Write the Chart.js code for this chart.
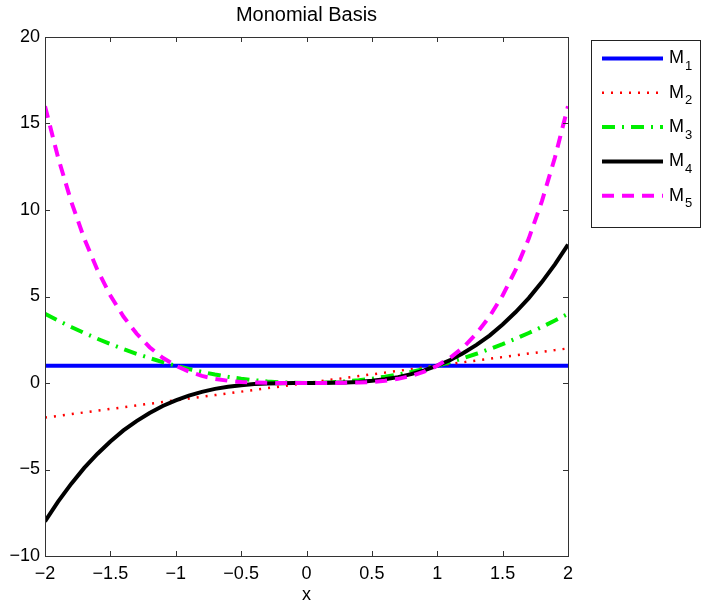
<!DOCTYPE html>
<html>
<head>
<meta charset="utf-8">
<script src="https://cdn.jsdelivr.net/npm/chart.js@4.4.1/dist/chart.umd.min.js"></script>
<style>
  html, body { margin: 0; padding: 0; background: #fff; }
  #wrap { width: 702px; height: 604px; }
</style>
</head>
<body>
<div id="wrap"><canvas id="basis-chart" width="702" height="604"></canvas></div>
<script>

// Chart data

const xs = [-2, -1.9, -1.8, -1.7, -1.6, -1.5, -1.4, -1.3, -1.2, -1.1, -1, -0.9, -0.8, -0.7,
  -0.6, -0.5, -0.4, -0.3, -0.2, -0.1, 0, 0.1, 0.2, 0.3, 0.4, 0.5, 0.6, 0.7, 0.8, 0.9, 1,
  1.1, 1.2, 1.3, 1.4, 1.5, 1.6, 1.7, 1.8, 1.9, 2];

const m1 = [1, 1, 1, 1, 1, 1, 1, 1, 1, 1, 1, 1, 1, 1, 1, 1, 1, 1, 1, 1, 1,
  1, 1, 1, 1, 1, 1, 1, 1, 1, 1, 1, 1, 1, 1, 1, 1, 1, 1, 1, 1];

const m2 = [-2, -1.9, -1.8, -1.7, -1.6, -1.5, -1.4, -1.3, -1.2, -1.1, -1, -0.9, -0.8, -0.7,
  -0.6, -0.5, -0.4, -0.3, -0.2, -0.1, 0, 0.1, 0.2, 0.3, 0.4, 0.5, 0.6, 0.7, 0.8, 0.9, 1,
  1.1, 1.2, 1.3, 1.4, 1.5, 1.6, 1.7, 1.8, 1.9, 2];

const m3 = [4, 3.61, 3.24, 2.89, 2.56, 2.25, 1.96, 1.69, 1.44, 1.21, 1, 0.81, 0.64, 0.49,
  0.36, 0.25, 0.16, 0.09, 0.04, 0.01, 0, 0.01, 0.04, 0.09, 0.16, 0.25, 0.36, 0.49, 0.64,
  0.81, 1, 1.21, 1.44, 1.69, 1.96, 2.25, 2.56, 2.89, 3.24, 3.61, 4];

const m4 = [-8, -6.86, -5.83, -4.91, -4.1, -3.38, -2.74, -2.2, -1.73, -1.33, -1, -0.73,
  -0.51, -0.34, -0.22, -0.13, -0.06, -0.03, -0.01, 0, 0, 0, 0.01, 0.03, 0.06, 0.13, 0.22,
  0.34, 0.51, 0.73, 1, 1.33, 1.73, 2.2, 2.74, 3.38, 4.1, 4.91, 5.83, 6.86, 8];

const m5 = [16, 13.03, 10.5, 8.35, 6.55, 5.06, 3.84, 2.86, 2.07, 1.46, 1, 0.66, 0.41, 0.24,
  0.13, 0.06, 0.03, 0.01, 0, 0, 0, 0, 0, 0.01, 0.03, 0.06, 0.13, 0.24, 0.41, 0.66, 1,
  1.46, 2.07, 2.86, 3.84, 5.06, 6.55, 8.35, 10.5, 13.03, 16];

const seriesNames = ['M1', 'M2', 'M3', 'M4', 'M5'];
const xTicks = [-2, -1.5, -1, -0.5, 0, 0.5, 1, 1.5, 2];
const yTicks = [-10, -5, 0, 5, 10, 15, 20];

const FONT = '"Liberation Sans", Arial, sans-serif';

const pts = ys => xs.map((x, i) => ({ x: x, y: ys[i] }));
const minus = v => String(v).replace('-', '\u2212');

// box + inward ticks, MATLAB style
const boxPlugin = {
  id: 'box',
  afterDraw(chart) {
    const c = chart.ctx;
    const a = chart.chartArea;
    const sx = chart.scales.x, sy = chart.scales.y;
    const len = 5;
    c.save();
    c.strokeStyle = '#333';
    c.lineWidth = 1;
    c.beginPath();
    xTicks.forEach(v => {
      const px = Math.round(sx.getPixelForValue(v)) + 0.5;
      c.moveTo(px, a.bottom); c.lineTo(px, a.bottom - len);
      c.moveTo(px, a.top); c.lineTo(px, a.top + len);
    });
    yTicks.forEach(v => {
      const py = Math.round(sy.getPixelForValue(v)) + 0.5;
      c.moveTo(a.left, py); c.lineTo(a.left + len, py);
      c.moveTo(a.right, py); c.lineTo(a.right - len, py);
    });
    c.stroke();
    c.strokeRect(Math.round(a.left) + 0.5, Math.round(a.top) + 0.5,
      Math.round(a.right - a.left), Math.round(a.bottom - a.top));
    c.restore();
  }
};

// legend with subscripts
const legendPlugin = {
  id: 'subLegend',
  afterDraw(chart) {
    const c = chart.ctx;
    const bx = 591, by = 40, bw = 110, bh = 188;
    c.save();
    c.fillStyle = '#fff';
    c.fillRect(bx, by, bw, bh);
    c.strokeStyle = '#222';
    c.lineWidth = 1;
    c.strokeRect(bx + 0.5, by + 0.5, bw - 1, bh - 1);
    chart.data.datasets.forEach((ds, i) => {
      const y = 58.5 + 34.3 * i;
      c.strokeStyle = ds.borderColor;
      c.lineWidth = ds.borderWidth;
      c.setLineDash(ds.borderDash || []);
      c.beginPath();
      c.moveTo(602, y);
      c.lineTo(663, y);
      c.stroke();
      c.setLineDash([]);
      c.fillStyle = '#000';
      c.textBaseline = 'middle';
      c.textAlign = 'left';
      c.font = '18px ' + FONT;
      c.fillText(ds.label.charAt(0), 669, y);
      const w = c.measureText(ds.label.charAt(0)).width;
      c.font = '13px ' + FONT;
      c.fillText(ds.label.slice(1), 669 + w + 1, y + 8);
    });
    c.restore();
  }
};

const styles = [
  { color: '#0000ff', width: 4, dash: [] },
  { color: '#ff0000', width: 2.5, dash: [2, 7] },
  { color: '#00ee00', width: 4, dash: [13, 7, 2, 7] },
  { color: '#000000', width: 4, dash: [] },
  { color: '#ff00ff', width: 4, dash: [12, 8] }
];

const series = [m1, m2, m3, m4, m5];

const ctx = document.getElementById('basis-chart').getContext('2d');

const basisChart = new Chart(ctx, {
  type: 'line',
  data: {
    datasets: series.map((ys, i) => ({
      label: seriesNames[i],
      data: pts(ys),
      borderColor: styles[i].color,
      backgroundColor: styles[i].color,
      borderWidth: styles[i].width,
      borderDash: styles[i].dash,
      pointRadius: 0,
      tension: 0,
      fill: false,
      order: 5 - i
    }))
  },
  options: {
    responsive: false,
    animation: false,
    events: [],
    layout: { padding: { left: 0, right: 134, top: 0, bottom: 0 } },
    scales: {
      x: {
        type: 'linear',
        min: -2,
        max: 2,
        afterFit: s => { s.height = 48; },
        afterBuildTicks: s => { s.ticks = xTicks.map(v => ({ value: v })); },
        grid: { display: false, drawTicks: false },
        border: { display: false },
        ticks: {
          padding: 7,
          color: '#000',
          font: { family: FONT, size: 18 },
          maxRotation: 0,
          callback: v => minus(v)
        },
        title: {
          display: true,
          text: 'x',
          color: '#000',
          font: { family: FONT, size: 18, lineHeight: 1 },
          padding: { top: 0, bottom: 0 }
        }
      },
      y: {
        type: 'linear',
        min: -10,
        max: 20,
        afterFit: s => { s.width = 45; },
        afterBuildTicks: s => { s.ticks = yTicks.map(v => ({ value: v })); },
        grid: { display: false, drawTicks: false },
        border: { display: false },
        ticks: {
          padding: 5,
          color: '#000',
          font: { family: FONT, size: 18 },
          callback: v => minus(v)
        }
      }
    },
    plugins: {
      legend: { display: false },
      tooltip: { enabled: false },
      title: {
        display: true,
        fullSize: false,
        text: 'Monomial Basis',
        color: '#000',
        font: { family: FONT, size: 20, weight: 'normal', lineHeight: 1.2 },
        padding: { top: 3, bottom: 10 }
      }
    }
  },
  plugins: [boxPlugin, legendPlugin]
});

</script>
</body>
</html>
